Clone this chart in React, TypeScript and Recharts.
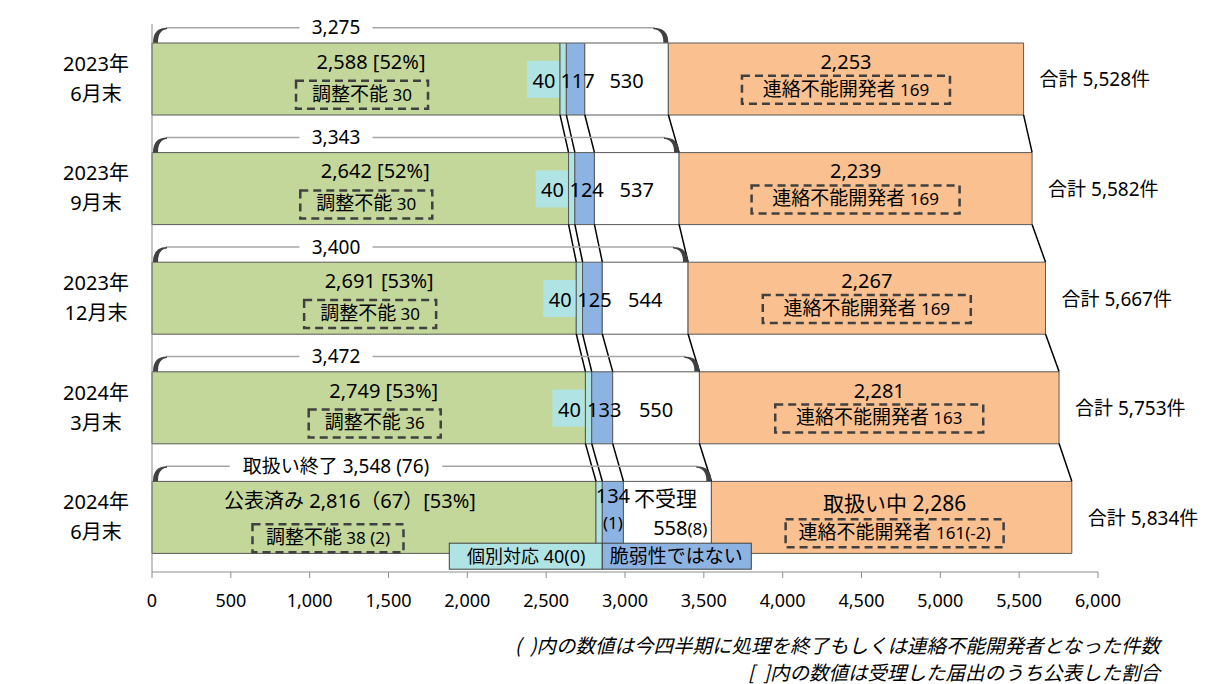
import React from "react";
import { BarChart, Bar, XAxis, YAxis, ReferenceLine } from "recharts";

// 四半期末ごとの届出件数
const periods = ["2023年6月末", "2023年9月末", "2023年12月末", "2024年3月末", "2024年6月末"];
const published = [2588, 2642, 2691, 2749, 2816];
const individual = [40, 40, 40, 40, 40];
const notVulnerable = [117, 124, 125, 133, 134];
const rejected = [530, 537, 544, 550, 558];
const inProgress = [2253, 2239, 2267, 2281, 2286];
const publishRate = ["52%", "52%", "53%", "53%", "53%"];
const unadjustable = [30, 30, 30, 36, 38];
const unreachable = [169, 169, 169, 163, 161];
// 今四半期の増分（最新期のみ表示）
const qFinished = 76;
const qPublished = 67;
const qUnadjustable = 2;
const qIndividual = 0;
const qNotVulnerable = 1;
const qRejected = 8;
const qUnreachable = -2;
const xTicks = [0, 500, 1000, 1500, 2000, 2500, 3000, 3500, 4000, 4500, 5000, 5500, 6000];

const FONT = '"Noto Sans", "Noto Sans CJK JP", sans-serif';
const BAR = 72;
const HALF = BAR / 2;
const LAST = periods.length - 1;

const C_GREEN = "#C4D79B";
const C_CYAN = "#B0E4E4";
const C_BLUE = "#8DB3E2";
const C_ORANGE = "#FAC090";
const C_EDGE = "#595959";

const data = periods.map((name, i) => ({
  name,
  published: published[i],
  individual: individual[i],
  notVulnerable: notVulnerable[i],
  rejected: rejected[i],
  inProgress: inProgress[i],
}));

const cum1 = published;
const cum2 = cum1.map((v, i) => v + individual[i]);
const cum3 = cum2.map((v, i) => v + notVulnerable[i]);
const cum4 = cum3.map((v, i) => v + rejected[i]); // 取扱い終了
const cum5 = cum4.map((v, i) => v + inProgress[i]); // 合計
const bounds = [cum1, cum2, cum3, cum4, cum5];

const fmt = (n: number) => n.toLocaleString("en-US");

// rough text width for label backgrounds
const textW = (s: string, fs: number) =>
  [...s].reduce((w, ch) => w + (/[\u3000-\u9fff\uff00-\uffef]/.test(ch) ? fs : /[0-9]/.test(ch) ? fs * 0.57 : fs * 0.3), 0);

function T({ x, y, size = 20, anchor = "middle", children }: any) {
  return (
    <text x={x} y={y} dy="0.35em" textAnchor={anchor} fontSize={size} fontFamily={FONT} fill="#000">
      {children}
    </text>
  );
}

function DashBox({ cx, cy, w, main, num }: any) {
  return (
    <g>
      <rect x={cx - w / 2} y={cy - 14} width={w} height={28} fill="none" stroke="#404040" strokeWidth={2.5} strokeDasharray="8 5" />
      <text x={cx} y={cy} dy="0.36em" textAnchor="middle" fontFamily={FONT} fill="#000">
        <tspan fontSize={19}>{main}</tspan>
        <tspan fontSize={17}>{" " + num}</tspan>
      </text>
    </g>
  );
}

function Bracket({ l, r, top, label }: any) {
  const yb = top - 15;
  const cx = l + 184;
  const w = textW(label, 19) + 24;
  return (
    <g>
      <line x1={l + 14} y1={yb} x2={r - 14} y2={yb} stroke="#a6a6a6" strokeWidth={1.5} />
      <path d={`M${l + 1},${top} Q${l + 1},${yb} ${l + 15},${yb} L${l + 15},${yb + 1.5} Q${l + 6},${yb + 2} ${l + 6},${top} Z`} fill="#404040" />
      <path d={`M${r - 15},${yb} Q${r},${yb} ${r},${top} L${r - 5},${top} Q${r - 5},${yb + 2} ${r - 15},${yb + 1.5} Z`} fill="#404040" />
      <rect x={cx - w / 2} y={yb - 3} width={w} height={6} fill="#fff" />
      <T x={cx} y={yb} size={19}>{label}</T>
    </g>
  );
}

const PeriodTick = ({ y, payload }: any) => {
  const [a, b] = String(payload.value).split("年");
  return (
    <text x={96} y={y} textAnchor="middle" fontSize={20} fontFamily={FONT} fill="#000">
      <tspan x={96} dy={-8}>{a}年</tspan>
      <tspan x={96} dy={30}>{b}</tspan>
    </text>
  );
};

// annotation helper: a reference segment over [from,to] on row i, shape draws with library coords
const notes: React.ReactElement[] = [];
const addNote = (key: string, i: number, from: number, to: number, draw: (l: number, r: number, top: number) => React.ReactNode) => {
  notes.push(
    <ReferenceLine
      key={key}
      ifOverflow="visible"
      zIndex={900}
      segment={[{ x: from, y: periods[i] }, { x: to, y: periods[i] }]}
      shape={(p: any) => <g>{draw(p.x1, p.x2, p.y1 - HALF)}</g>}
    />
  );
};

// series lines between bars
periods.forEach((_, i) => {
  if (i === LAST) return;
  bounds.forEach((b, k) => {
    notes.push(
      <ReferenceLine
        key={`sl-${i}-${k}`}
        ifOverflow="visible"
        zIndex={900}
        segment={[{ x: b[i], y: periods[i] }, { x: b[i + 1], y: periods[i + 1] }]}
        shape={(p: any) => <line x1={p.x1} y1={p.y1 + HALF} x2={p.x2} y2={p.y2 - HALF} stroke="#000" strokeWidth={1.5} />}
      />
    );
  });
});

periods.forEach((_, i) => {
  const last = i === LAST;
  addNote(`br-${i}`, i, 0, cum4[i], (l, r, top) => (
    <Bracket l={l} r={r} top={top} label={last ? `取扱い終了 ${fmt(cum4[i])} (${qFinished})` : fmt(cum4[i])} />
  ));

  // 公表済み
  addNote(`pub-${i}`, i, 0, cum1[i], (l, r, top) => {
    const c = (l + r) / 2;
    return last ? (
      <g>
        <T x={c - 24} y={top + 20}>{`公表済み ${fmt(published[i])}（${qPublished}）[${publishRate[i]}]`}</T>
        <DashBox cx={c - 46} cy={top + 57} w={151} main="調整不能" num={`${unadjustable[i]} (${qUnadjustable})`} />
      </g>
    ) : (
      <g>
        <T x={c + 15} y={top + 19}>{`${fmt(published[i])} [${publishRate[i]}]`}</T>
        <DashBox cx={c + 6} cy={top + 52} w={132} main="調整不能" num={unadjustable[i]} />
      </g>
    );
  });

  // 個別対応
  addNote(`ind-${i}`, i, cum1[i], cum2[i], (l, r, top) =>
    last ? (
      <g>
        <rect x={r - 153} y={top + 62} width={153} height={26} fill={C_CYAN} stroke="#404040" strokeWidth={1} />
        <T x={r - 76} y={top + 75} size={18}>{`個別対応 ${individual[i]}(${qIndividual})`}</T>
      </g>
    ) : (
      <g>
        <rect x={l - 33} y={top + 18} width={32} height={37} fill={C_CYAN} />
        <T x={l - 16} y={top + 38}>{individual[i]}</T>
      </g>
    )
  );

  // 脆弱性ではない
  addNote(`nv-${i}`, i, cum2[i], cum3[i], (l, r, top) => {
    const c = (l + r) / 2;
    return last ? (
      <g>
        <rect x={l} y={top + 62} width={149} height={26} fill={C_BLUE} stroke="#404040" strokeWidth={1} />
        <T x={l + 74} y={top + 75} size={19}>脆弱性ではない</T>
        <T x={c} y={top + 15}>{notVulnerable[i]}</T>
        <T x={c} y={top + 42} size={17}>{`(${qNotVulnerable})`}</T>
      </g>
    ) : (
      <T x={c + 2} y={top + 38}>{notVulnerable[i]}</T>
    );
  });

  // 不受理
  addNote(`rej-${i}`, i, cum3[i], cum4[i], (l, r, top) => {
    const c = (l + r) / 2;
    return last ? (
      <g>
        <T x={c - 2} y={top + 17} size={21}>不受理</T>
        <text x={r - 4} y={top + 48} dy="0.35em" textAnchor="end" fontFamily={FONT} fill="#000">
          <tspan fontSize={20}>{rejected[i]}</tspan>
          <tspan fontSize={17}>{`(${qRejected})`}</tspan>
        </text>
      </g>
    ) : (
      <T x={c} y={top + 38}>{rejected[i]}</T>
    );
  });

  // 取扱い中
  addNote(`prog-${i}`, i, cum4[i], cum5[i], (l, r, top) => {
    const c = (l + r) / 2;
    return last ? (
      <g>
        <T x={c + 3} y={top + 22} size={21}>{`取扱い中 ${fmt(inProgress[i])}`}</T>
        <DashBox cx={c + 3} cy={top + 52} w={218} main="連絡不能開発者" num={`${unreachable[i]}(${qUnreachable})`} />
      </g>
    ) : (
      <g>
        <T x={c} y={top + 19}>{fmt(inProgress[i])}</T>
        <DashBox cx={c} cy={top + 47} w={208} main="連絡不能開発者" num={unreachable[i]} />
      </g>
    );
  });

  // 合計
  addNote(`tot-${i}`, i, cum5[i], cum5[i], (l, r, top) => (
    <T x={r + 16} y={top + 37} anchor="start" size={19}>{`合計 ${fmt(cum5[i])}件`}</T>
  ));
});

export default function App() {
  return (
    <div style={{ position: "absolute", left: 0, top: 0, width: 1216, height: 684, background: "#fff", fontFamily: FONT }}>
      <BarChart
        width={1216}
        height={684}
        data={data}
        layout="vertical"
        margin={{ top: 24, right: 118, bottom: 82, left: 0 }}
        barSize={BAR}
      >
        <XAxis
          type="number"
          domain={[0, 6000]}
          ticks={xTicks}
          tickFormatter={(v: number) => fmt(v)}
          stroke="#8c8c8c"
          tickSize={6}
          tickMargin={16}
          height={30}
          tick={{ fontSize: 18, fill: "#000", fontFamily: FONT }}
        />
        <YAxis type="category" dataKey="name" width={152} stroke="#8c8c8c" tickLine={false} tick={<PeriodTick />} />
        <Bar dataKey="published" stackId="a" fill={C_GREEN} stroke={C_EDGE} strokeWidth={1} isAnimationActive={false} />
        <Bar dataKey="individual" stackId="a" fill={C_CYAN} stroke={C_EDGE} strokeWidth={1} isAnimationActive={false} />
        <Bar dataKey="notVulnerable" stackId="a" fill={C_BLUE} stroke={C_EDGE} strokeWidth={1} isAnimationActive={false} />
        <Bar dataKey="rejected" stackId="a" fill="#FFFFFF" stroke={C_EDGE} strokeWidth={1} isAnimationActive={false} />
        <Bar dataKey="inProgress" stackId="a" fill={C_ORANGE} stroke={C_EDGE} strokeWidth={1} isAnimationActive={false} />
        {notes}
      </BarChart>
      <div style={{ position: "absolute", right: 56, top: 631, fontSize: 19.5, fontStyle: "italic", color: "#000", lineHeight: "27px", textAlign: "right", fontFamily: '"Noto Sans CJK JP", sans-serif' }}>
        <div>(&nbsp;&nbsp;)内の数値は今四半期に処理を終了もしくは連絡不能開発者となった件数</div>
        <div>[&nbsp;&nbsp;]内の数値は受理した届出のうち公表した割合</div>
      </div>
    </div>
  );
}
